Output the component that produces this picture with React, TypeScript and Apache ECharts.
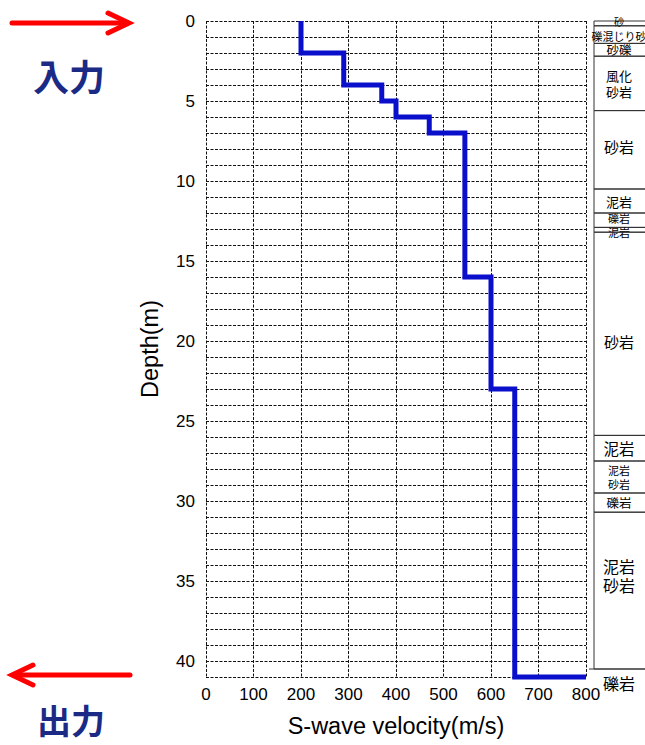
import React, { useEffect, useRef } from "react";
import * as echarts from "echarts";

// ---- Data ----
const depthBoundaries = [0, 2, 4, 5, 6, 7, 16, 23, 41];
const velocities = [200, 290, 370, 400, 470, 545, 600, 650];
const profileEnd = [800, 41];

const xMin = 0;
const xMax = 800;
const xInterval = 100;
const yMin = 0;
const yMax = 41;
const yLabelStep = 5;

const layerTops = [0, 0.3, 1.4, 2.2, 5.6, 10.5, 12.0, 12.9, 13.2, 25.9, 27.5, 29.5, 30.7, 40.5];
const layerBottoms = [0.3, 1.4, 2.2, 5.6, 10.5, 12.0, 12.9, 13.2, 25.9, 27.5, 29.5, 30.7, 40.5, 42.3];
const layerNames = [
  "砂",
  "礫混じり砂",
  "砂礫",
  "風化\n砂岩",
  "砂岩",
  "泥岩",
  "礫岩",
  "泥岩",
  "砂岩",
  "泥岩",
  "泥岩\n砂岩",
  "礫岩",
  "泥岩\n砂岩",
  "礫岩",
];

// ---- Styles ----
const LAYER_FONT_SIZES = [10, 11, 12.5, 13, 15, 13, 11, 11, 15, 15.5, 11, 12.5, 16, 16];
const LAYER_TEXT_DY = [-1.5, 1.5, 0, 0, -3, 0, -2, 2.5, 8, 0, 0, 0, -15, 0];
const NUM_FONT = "'Liberation Sans', Arial, Helvetica, sans-serif";
const CJK_FONT = "'Noto Sans CJK JP', sans-serif";

function buildProfile(): number[][] {
  const pts: number[][] = [];
  for (let i = 0; i < velocities.length; i++) {
    pts.push([velocities[i], depthBoundaries[i]]);
    pts.push([velocities[i], depthBoundaries[i + 1]]);
  }
  pts.push(profileEnd);
  return pts;
}

export default function App() {
  const ref = useRef<HTMLDivElement>(null);

  useEffect(() => {
    if (!ref.current) return;
    const chart = echarts.init(ref.current, undefined, { renderer: "svg" });

    const gridLine = { color: "#111", width: 1, type: [3, 1.5] as any };

    const option: any = {
      animation: false,
      backgroundColor: "#fff",
      grid: [
        { left: 206, top: 21, width: 380, height: 656, containLabel: false },
        { left: 594, top: 21, width: 50, height: 656, containLabel: false },
      ],
      xAxis: [
        {
          type: "value",
          gridIndex: 0,
          min: xMin,
          max: xMax,
          interval: xInterval,
          position: "bottom",
          axisLine: { show: false },
          axisTick: { show: false },
          axisLabel: { fontSize: 17, color: "#000", fontFamily: NUM_FONT, margin: 9 },
          splitLine: { show: true, lineStyle: gridLine },
          name: "S-wave velocity(m/s)",
          nameLocation: "middle",
          nameGap: 37,
          nameTextStyle: { fontSize: 23.5, color: "#000", fontFamily: NUM_FONT },
        },
        { type: "value", gridIndex: 1, min: 0, max: 1, show: false },
      ],
      yAxis: [
        {
          type: "value",
          gridIndex: 0,
          min: yMin,
          max: yMax,
          interval: 1,
          inverse: true,
          axisLine: { show: false },
          axisTick: { show: false },
          axisLabel: {
            fontSize: 17,
            color: "#000",
            fontFamily: NUM_FONT,
            margin: 11,
            formatter: (v: number) => (v % yLabelStep === 0 ? String(v) : ""),
          },
          splitLine: { show: true, lineStyle: gridLine },
          name: "Depth(m)",
          nameLocation: "middle",
          nameGap: 44,
          nameRotate: 90,
          nameTextStyle: { fontSize: 23.5, color: "#000", fontFamily: NUM_FONT },
        },
        { type: "value", gridIndex: 1, min: yMin, max: yMax, inverse: true, show: false },
      ],
      series: [
        {
          type: "line",
          xAxisIndex: 0,
          yAxisIndex: 0,
          data: buildProfile(),
          showSymbol: false,
          symbol: "none",
          clip: false,
          lineStyle: { color: "#0a0fcc", width: 5, join: "miter" },
          z: 5,
        },
        {
          type: "custom",
          xAxisIndex: 1,
          yAxisIndex: 1,
          clip: false,
          data: layerTops.map((t, i) => [t, layerBottoms[i]]),
          renderItem: (params: any, api: any) => {
            const i = params.dataIndex;
            const a = api.coord([0, api.value(0)]);
            const b = api.coord([0, api.value(1)]);
            const x0 = a[0];
            const isLast = i === layerNames.length - 1;
            const fs = LAYER_FONT_SIZES[i];
            const children: any[] = [];
            if (!isLast) {
              children.push({
                type: "rect",
                shape: { x: x0, y: a[1], width: 140, height: b[1] - a[1] },
                style: { fill: "none", stroke: "#333", lineWidth: 1 },
              });
            } else {
              children.push({
                type: "line",
                shape: { x1: x0 - 5, y1: a[1], x2: x0 + 140, y2: a[1] },
                style: { stroke: "#333", lineWidth: 1 },
              });
            }
            children.push({
              type: "text",
              x: x0 + 25,
              y: (a[1] + b[1]) / 2 + LAYER_TEXT_DY[i],
              style: {
                text: layerNames[i],
                align: "center",
                verticalAlign: "middle",
                fontSize: fs,
                lineHeight: fs * 1.2,
                fontFamily: CJK_FONT,
                fill: "#000",
              },
            });
            return { type: "group", children };
          },
          z: 3,
        },
      ],
      graphic: [
        {
          type: "line",
          shape: { x1: 12, y1: 23, x2: 126, y2: 23 },
          style: { stroke: "#ff0000", lineWidth: 5, lineCap: "round" },
        },
        {
          type: "polyline",
          shape: { points: [[108, 13], [129, 23], [108, 33]] },
          style: { stroke: "#ff0000", lineWidth: 5, lineCap: "round", lineJoin: "miter", fill: "none" },
        },
        {
          type: "text",
          x: 69,
          y: 75,
          style: {
            text: "入力",
            align: "center",
            verticalAlign: "middle",
            fontSize: 36,
            lineHeight: 36,
            fontWeight: "bold",
            fill: "#1b2a85",
            fontFamily: CJK_FONT,
          },
        },
        {
          type: "line",
          shape: { x1: 16, y1: 675, x2: 130, y2: 675 },
          style: { stroke: "#ff0000", lineWidth: 5, lineCap: "round" },
        },
        {
          type: "polyline",
          shape: { points: [[33, 665], [12, 675], [33, 685]] },
          style: { stroke: "#ff0000", lineWidth: 5, lineCap: "round", lineJoin: "miter", fill: "none" },
        },
        {
          type: "text",
          x: 71,
          y: 719,
          style: {
            text: "出力",
            align: "center",
            verticalAlign: "middle",
            fontSize: 34,
            lineHeight: 34,
            fontWeight: "bold",
            fill: "#1b2a85",
            fontFamily: CJK_FONT,
          },
        },
      ],
    };

    chart.setOption(option);
    return () => chart.dispose();
  }, []);

  return (
    <div
      ref={ref}
      style={{ position: "absolute", left: 0, top: 0, width: 645, height: 745, background: "#fff" }}
    />
  );
}
